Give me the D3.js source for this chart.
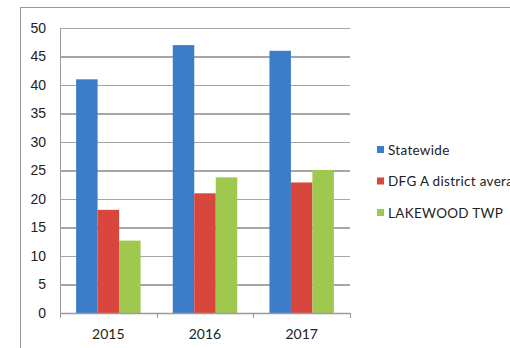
<!DOCTYPE html>
<html>
<head>
<meta charset="utf-8">
<script src="https://cdn.jsdelivr.net/npm/d3@7"></script>
<style>
  html, body { margin: 0; padding: 0; background: #fff; overflow: hidden; }
  svg { display: block; font-family: Lato, "Open Sans", sans-serif; }
</style>
</head>
<body>
<svg id="chart" width="510" height="348"></svg>
<script>
// Categories, series and y tick labels
const years = ["2015", "2016", "2017"];
const seriesNames = ["Statewide", "DFG A district average", "LAKEWOOD TWP"];
const statewide = [41, 47, 46];
const dfgAverage = [18.1, 21, 22.9];
const lakewood = [12.7, 23.8, 25.1];
const yTicks = [0, 5, 10, 15, 20, 25, 30, 35, 40, 45, 50];
const colors = ["#3c7dca", "#d9463d", "#9fc84f"];

const seriesValues = [statewide, dfgAverage, lakewood];
const rows = years.map((y, i) => ({
  year: y,
  values: seriesNames.map((s, j) => ({ series: s, idx: j, value: seriesValues[j][i] }))
}));

const svg = d3.select("#chart");

// Outer chart frame
svg.append("rect")
  .attr("x", 20.5).attr("y", 7.5)
  .attr("width", 520).attr("height", 360)
  .attr("fill", "none").attr("stroke", "#9a9a9a").attr("stroke-width", 1);

const plot = { left: 60, right: 350, top: 28, bottom: 313 };

const x = d3.scaleBand().domain(years).range([plot.left, plot.right]).paddingInner(0).paddingOuter(0);
const y = d3.scaleLinear().domain([0, 50]).range([plot.bottom, plot.top]);
const inner = d3.scaleBand().domain(d3.range(seriesNames.length))
  .range([0, x.bandwidth()]).paddingInner(0).paddingOuter(0.75);

// Horizontal gridlines and y labels
const yAxis = d3.axisLeft(y).tickValues(yTicks).tickSize(-(plot.right - plot.left)).tickPadding(13);
const gy = svg.append("g").attr("transform", `translate(${plot.left},0)`).call(yAxis);
gy.select(".domain").remove();
gy.selectAll(".tick line").attr("stroke", "#a6a6a6").attr("stroke-width", 1.3)
  .attr("shape-rendering", "crispEdges");
gy.selectAll(".tick text").attr("fill", "#222").attr("font-size", 14).attr("x", -14);

// Vertical axis line
svg.append("line")
  .attr("x1", plot.left + 0.5).attr("x2", plot.left + 0.5)
  .attr("y1", plot.top).attr("y2", plot.bottom)
  .attr("stroke", "#9a9a9a").attr("stroke-width", 1);

// Bars
const groups = svg.append("g").selectAll("g").data(rows).join("g")
  .attr("transform", d => `translate(${x(d.year)},0)`);
groups.selectAll("rect").data(d => d.values).join("rect")
  .attr("x", d => inner(d.idx))
  .attr("width", inner.bandwidth())
  .attr("y", d => y(d.value))
  .attr("height", d => y(0) - y(d.value))
  .attr("fill", d => colors[d.idx]);

// Category axis with boundary ticks
const gx = svg.append("g").attr("transform", `translate(0,${plot.bottom})`);
gx.append("line")
  .attr("x1", plot.left).attr("x2", plot.right)
  .attr("y1", 0.5).attr("y2", 0.5)
  .attr("stroke", "#9a9a9a").attr("stroke-width", 1.3);
const boundaries = years.map(yr => x(yr)).concat([x(years[years.length - 1]) + x.bandwidth()]);
gx.selectAll("line.tk").data(boundaries).join("line")
  .attr("class", "tk")
  .attr("x1", d => Math.round(d) + 0.5).attr("x2", d => Math.round(d) + 0.5)
  .attr("y1", 0).attr("y2", 5)
  .attr("stroke", "#9a9a9a").attr("stroke-width", 1);
gx.selectAll("text").data(years).join("text")
  .attr("x", d => x(d) + x.bandwidth() / 2)
  .attr("y", 26)
  .attr("text-anchor", "middle")
  .attr("font-size", 14)
  .attr("fill", "#222")
  .text(d => d);

// Legend
const legend = svg.append("g").attr("transform", "translate(377,150)");
const li = legend.selectAll("g").data(seriesNames).join("g")
  .attr("transform", (d, i) => `translate(0,${i * 31.5})`);
li.append("rect")
  .attr("x", 0).attr("y", -4).attr("width", 7).attr("height", 7)
  .attr("fill", (d, i) => colors[i]);
li.append("text")
  .attr("x", 11).attr("y", 0)
  .attr("dy", "0.35em")
  .attr("font-size", 13.5)
  .attr("letter-spacing", 0.3)
  .attr("fill", "#222")
  .text(d => d);
</script>
</body>
</html>
